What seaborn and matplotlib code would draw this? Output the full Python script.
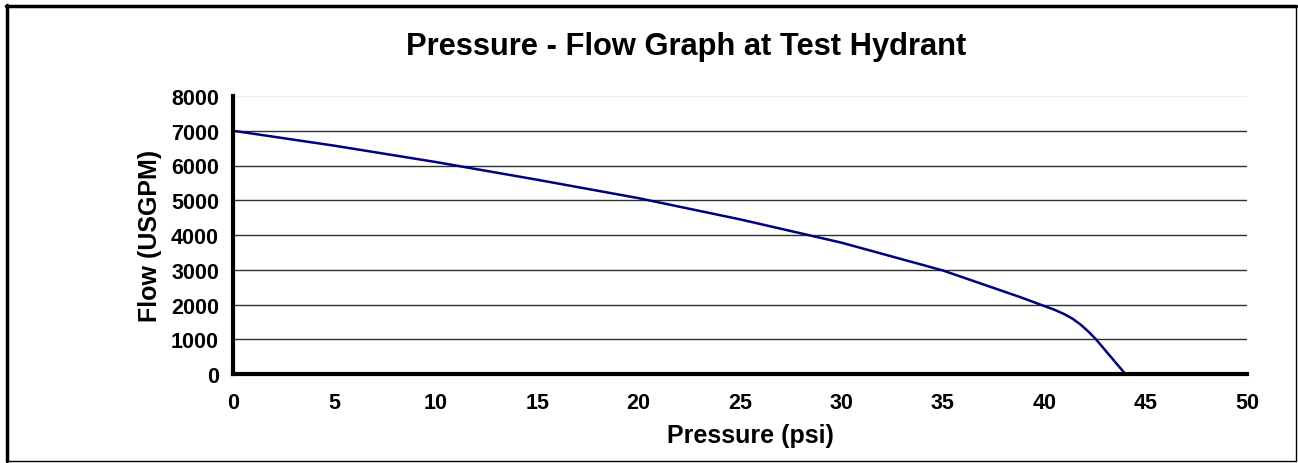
import matplotlib
matplotlib.use("Agg")
import matplotlib.pyplot as plt
import pandas as pd
import seaborn as sns
from matplotlib.lines import Line2D

# values
pressure_psi = [0, 5, 10, 15, 20, 25, 30, 35, 38.8, 39.8, 40.5, 41.0, 41.4, 41.8, 42.2, 42.55, 43.0, 43.5, 44.0]
flow_usgpm = [7000, 6570, 6100, 5590, 5060, 4450, 3780, 2980, 2216, 2000, 1850, 1720, 1590, 1420, 1210, 1000, 690, 345, 0]

x_ticks = list(range(0, 51, 5))
y_ticks = list(range(0, 8001, 1000))

df = pd.DataFrame({"pressure": pressure_psi, "flow": flow_usgpm})

sns.set_style("white")
plt.rcParams["font.family"] = ["Liberation Sans", "DejaVu Sans"]
plt.rcParams["font.weight"] = "bold"
for key in ["text.color", "axes.labelcolor", "xtick.color", "ytick.color"]:
    plt.rcParams[key] = "black"

fig = plt.figure(figsize=(12.98, 4.64), dpi=100)
ax = fig.add_axes([233 / 1298, 1 - 375 / 464, (1247 - 233) / 1298, (375 - 97) / 464])

sns.lineplot(data=df, x="pressure", y="flow", ax=ax, color="#000080",
             linewidth=1.8, sort=False, estimator=None)

ax.set_xlim(0, 50)
ax.set_ylim(0, 8000)
ax.set_xticks(x_ticks)
ax.set_yticks(y_ticks)
ax.set_xticklabels([str(v) for v in x_ticks], fontsize=15.5, fontweight="bold")
ax.set_yticklabels([str(v) for v in y_ticks], fontsize=15.5, fontweight="bold")
ax.tick_params(axis="both", direction="out", length=5, width=2.5, color="black")
ax.tick_params(axis="x", pad=8)
ax.tick_params(axis="y", pad=5)

# horizontal gridlines, top one faint like the plot area edge
for v in y_ticks[1:-1]:
    ax.axhline(v, color="#303030", linewidth=1.0, zorder=0)
ax.axhline(8000, color="#eeeeee", linewidth=1.0, zorder=0)

for side in ["top", "right"]:
    ax.spines[side].set_visible(False)
for side in ["left", "bottom"]:
    ax.spines[side].set_linewidth(3)
    ax.spines[side].set_color("black")

ax.set_xlabel("")
ax.set_ylabel("")
fig.text(750 / 1298, 1 - 436 / 464, "Pressure (psi)", ha="center", va="center",
         fontsize=18, fontweight="bold")
fig.text(150 / 1298, 1 - 236 / 464, "Flow (USGPM)", ha="center", va="center",
         rotation=90, fontsize=18, fontweight="bold")
fig.text(686 / 1298, 1 - 47 / 464, "Pressure - Flow Graph at Test Hydrant",
         ha="center", va="center", fontsize=22.2, fontweight="bold")

# chart frame
fig.add_artist(Line2D([6 / 1298, 1296 / 1298], [1 - 7 / 464, 1 - 7 / 464], color="black", linewidth=2.5, transform=fig.transFigure))
fig.add_artist(Line2D([7 / 1298, 7 / 1298], [1 - 6 / 464, 1 - 462 / 464], color="black", linewidth=2.5, transform=fig.transFigure))
fig.add_artist(Line2D([1295.5 / 1298, 1295.5 / 1298], [1 - 6 / 464, 1 - 462 / 464], color="black", linewidth=1, transform=fig.transFigure))
fig.add_artist(Line2D([6 / 1298, 1296 / 1298], [1 - 461.5 / 464, 1 - 461.5 / 464], color="black", linewidth=1, transform=fig.transFigure))

fig.savefig("out.png", dpi=100)
